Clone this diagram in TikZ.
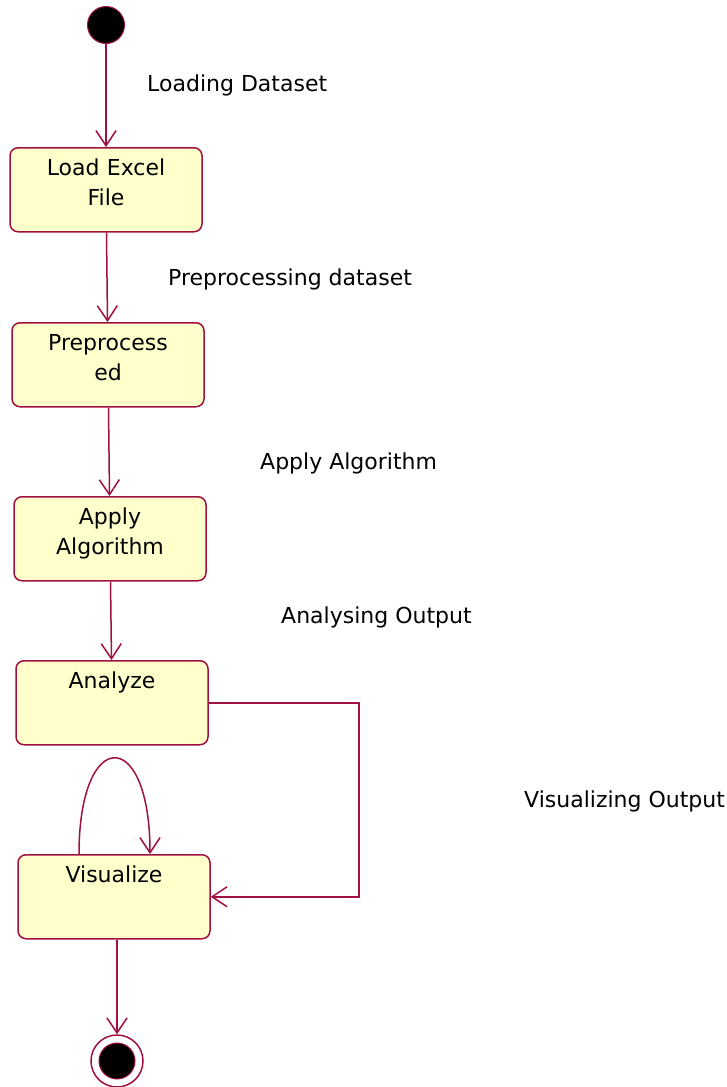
\documentclass[tikz,border=0pt]{standalone}
\usepackage{fontspec}
\setmainfont{DejaVu Sans}
\usetikzlibrary{arrows.meta}
\definecolor{umlred}{RGB}{160,16,64}
\definecolor{umlfill}{RGB}{255,255,204}
\tikzset{
  statebox/.style={draw=umlred, fill=umlfill, line width=1.5pt, rounded corners=8pt,
    minimum width=192pt, text width=180pt, align=center, anchor=north,
    inner ysep=6pt, text height=22pt, text depth=50pt},
  flow/.style={draw=umlred, line width=1.5pt, -{Straight Barb[length=15pt,width=20pt]}},
  tag/.style={anchor=base west, inner sep=0pt}
}
\begin{document}
\begin{tikzpicture}[x=1pt, y=-1pt, font=\fontsize{22}{30}\selectfont]
         \useasboundingbox (0,0) rectangle (727,1087);
         \node[circle, fill=black, draw=umlred, line width=1pt, minimum size=37pt, inner sep=0pt] (start) at (106,25) {};
         \node[statebox] (load) at (106,147) {Load Excel\\File};
         \node[statebox] (prep) at (108,322) {Preprocess\\ed};
         \node[statebox] (apply) at (110,496) {Apply\\Algorithm};
         \node[statebox] (analyze) at (112,660) {Analyze};
         \node[statebox] (visual) at (114,854) {Visualize};
         \node[circle, fill=white, draw=umlred, line width=1.5pt, minimum size=52pt, inner sep=0pt] (final) at (117,1061) {};
         \node[circle, fill=black, draw=umlred, line width=1pt, minimum size=36pt, inner sep=0pt] (finaldot) at (final) {};
         \draw[flow] (start) -- (start |- load.north);
         \draw[flow] (load) -- (prep);
         \draw[flow] (prep) -- (apply);
         \draw[flow] (apply) -- (analyze);
         \draw[flow] (analyze.east) -- ++(150,0) |- (visual.east);
         \draw[flow] ([xshift=-35pt]visual.north) .. controls +(0,-128) and +(0,-128) .. ([xshift=36pt]visual.north);
         \draw[flow] (final |- visual.south) -- (final.north);
         \node[tag] (lbl1) at (147,91) {Loading Dataset};
         \node[tag] (lbl2) at (168,285) {Preprocessing dataset};
         \node[tag] (lbl3) at (260,469) {Apply Algorithm};
         \node[tag] (lbl4) at (281,623) {Analysing Output};
         \node[tag] (lbl5) at (524,807) {Visualizing Output};
\end{tikzpicture}
\end{document}
